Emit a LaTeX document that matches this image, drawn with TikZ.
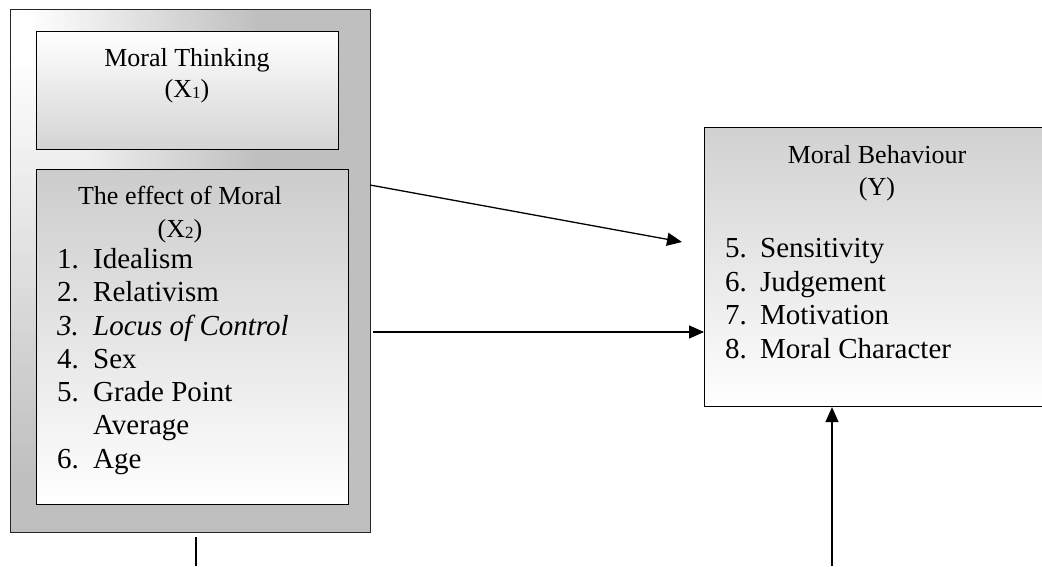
\documentclass[tikz,border=0pt]{standalone}
\usepackage{fontspec}
\setmainfont{Liberation Serif}
\usetikzlibrary{arrows.meta}
\newcommand{\smallsub}[1]{\raisebox{-1pt}{\fontsize{17}{17}\selectfont #1}}
\begin{document}
\begin{tikzpicture}[x=1pt,y=1pt,
  font=\fontsize{26}{33}\selectfont,
  box/.style={draw=black, line width=1.1pt, inner sep=0pt, anchor=north west},
  txt/.style={anchor=base, inner sep=0pt},
  num/.style={anchor=base west, inner sep=0pt, font=\fontsize{29}{33}\selectfont},
  conn/.style={line width=1.3pt, draw=black},
  arr/.style={conn, -{Triangle[length=15pt,width=13pt]}}]
\useasboundingbox (0,0) rectangle (1042,-566);
% outer box: gradient from the top-left corner, drawn as nested bands
\fill[black!25] (10,-9) rectangle (370,-532);
\foreach \i in {48,47,...,0}{
  \pgfmathsetmacro\shadeval{0.5208*\i}
  \pgfmathsetmacro\bx{30+4.7917*\i}
  \pgfmathsetmacro\by{-60-8.75*\i}
  \fill[black!\shadeval] (10,-9) rectangle (\bx,\by);
}
\node[box, draw=black!85, line width=1.4pt,
      minimum width=360pt, minimum height=523pt] (outer) at (10,-9) {};
% Moral Thinking box
\node[box, top color=white, bottom color=black!17,
      minimum width=302pt, minimum height=118pt] (b1) at (36,-31) {};
% Effect box
\node[box, top color=black!20, bottom color=white,
      minimum width=312pt, minimum height=335pt] (b2) at (36,-169) {};
% right box
\node[box, top color=black!18, bottom color=white,
      minimum width=346pt, minimum height=279pt] (b3) at (704,-127) {};

% texts box 1
\node[txt] (t1a) at (187,-66) {Moral Thinking};
\node[txt] (t1b) at (187,-97) {(X\smallsub{1})};
% texts box 2
\node[txt] (t2a) at (180,-204) {The effect of Moral};
\node[txt] (t2b) at (180,-237) {(X\smallsub{2})};
\node[num] (n1) at (57,-268) {1.};  \node[num] (i1) at (93,-268) {Idealism};
\node[num] (n2) at (57,-301) {2.};  \node[num] (i2) at (93,-301) {Relativism};
\node[num] (n3) at (57,-335) {\itshape 3.};  \node[num] (i3) at (93,-335) {\itshape Locus of Control};
\node[num] (n4) at (57,-368) {4.};  \node[num] (i4) at (93,-368) {Sex};
\node[num] (n5) at (57,-401) {5.};  \node[num] (i5) at (93,-401) {Grade Point};
\node[num] (i5b) at (93,-434) {Average};
\node[num] (n6) at (57,-468) {6.};  \node[num] (i6) at (93,-468) {Age};
% texts right box
\node[txt] (t3a) at (877,-163) {Moral Behaviour};
\node[txt] (t3b) at (877,-195) {(Y)};
\node[num] (m5) at (725,-257) {5.}; \node[num] (j5) at (760,-257) {Sensitivity};
\node[num] (m6) at (725,-291) {6.}; \node[num] (j6) at (760,-291) {Judgement};
\node[num] (m7) at (725,-324) {7.}; \node[num] (j7) at (760,-324) {Motivation};
\node[num] (m8) at (725,-358) {8.}; \node[num] (j8) at (760,-358) {Moral Character};

% connectors
\coordinate (d1s) at (370,-185);
\coordinate (d1e) at (682,-242);
\draw[arr] (d1s) -- (d1e);
\coordinate (h1s) at (373,-332);
\draw[arr] (h1s) -- (h1s -| b3.west);
\coordinate (s1s) at (196,-537);
\coordinate (s1e) at (196,-566);
\draw[conn] (s1s) -- (s1e);
\coordinate (v1s) at (832,-566);
\draw[arr] (v1s) -- (v1s |- b3.south);
\end{tikzpicture}
\end{document}
